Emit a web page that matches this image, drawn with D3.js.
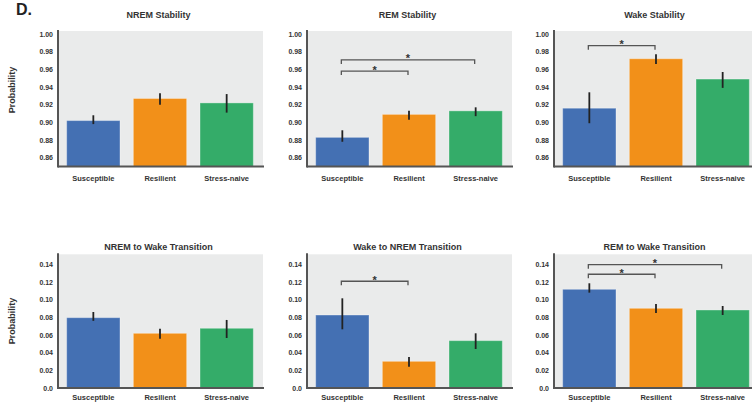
<!DOCTYPE html>
<html>
<head>
<meta charset="utf-8">
<script src="https://cdn.jsdelivr.net/npm/d3@7"></script>
<style>
  body { margin: 0; background: #fff; }
  svg text { font-family: "Liberation Sans", Arial, sans-serif; font-weight: bold; }
</style>
</head>
<body>
<svg id="chart" width="752" height="402"></svg>
<script>
// groups and colours
var groups = ["Susceptible", "Resilient", "Stress-naive"];
var groupColors = ["#4470b3", "#f29019", "#34ac69"];

// panel titles (row by row)
var titles = ["NREM Stability", "REM Stability", "Wake Stability",
              "NREM to Wake Transition", "Wake to NREM Transition", "REM to Wake Transition"];

// bar heights
var means = [
    [0.902, 0.927, 0.922],
    [0.883, 0.909, 0.913],
    [0.916, 0.972, 0.949],
    [0.0796, 0.0619, 0.0676],
    [0.0826, 0.0302, 0.0536],
    [0.1117, 0.0902, 0.0883]
];

// error bars [low, high]
var errLow = [
    [0.898, 0.920, 0.911],
    [0.878, 0.903, 0.907],
    [0.899, 0.966, 0.939],
    [0.076, 0.0558, 0.0566],
    [0.0664, 0.0241, 0.0441],
    [0.1079, 0.0849, 0.0826]
];
var errHigh = [
    [0.908, 0.933, 0.932],
    [0.891, 0.913, 0.917],
    [0.934, 0.977, 0.957],
    [0.086, 0.067, 0.077],
    [0.1015, 0.0351, 0.0619],
    [0.1185, 0.0951, 0.0928]
];

// significance brackets: [from group, to group, height]
var brackets = [
    [],
    [[0, 1, 0.958], [0, 2, 0.9706]],
    [[0, 1, 0.9868]],
    [],
    [[0, 1, 0.1208]],
    [[0, 1, 0.1287], [0, 2, 0.1396]]
];

var topTicks = [0.86, 0.88, 0.90, 0.92, 0.94, 0.96, 0.98, 1.00];
var bottomTicks = [0.0, 0.02, 0.04, 0.06, 0.08, 0.10, 0.12, 0.14];
var topDomain = [0.85, 1.0034];
var bottomDomain = [0, 0.1513];

var svg = d3.select("#chart");

var colX = [58, 307, 554];
var panelW = 205;
var rows = [
    { top: 31, bottom: 166.5, domain: topDomain, ticks: topTicks, fmt: d3.format(".2f"), titleY: 17.5, labelY: 181, probY: 90 },
    { top: 254.3, bottom: 388, domain: bottomDomain, ticks: bottomTicks, fmt: function(d) { return d === 0 ? "0.0" : d3.format(".2f")(d); }, titleY: 250, labelY: 400, probY: 321 }
];

svg.append("text")
    .attr("x", 16)
    .attr("y", 15)
    .attr("font-size", 16)
    .attr("fill", "#222")
    .text("D.");

rows.forEach(function(row) {
    svg.append("text")
        .attr("transform", "translate(15," + row.probY + ") rotate(-90)")
        .attr("text-anchor", "middle")
        .attr("font-size", 9)
        .attr("fill", "#333")
        .text("Probability");
});

titles.forEach(function(title, i) {
    var row = rows[Math.floor(i / 3)];
    var x0 = colX[i % 3];
    var g = svg.append("g");

    var x = d3.scaleBand()
        .domain(groups)
        .range([x0 + 2, x0 + 202])
        .paddingInner(0.2)
        .paddingOuter(0.1);

    var y = d3.scaleLinear()
        .domain(row.domain)
        .range([row.bottom, row.top]);

    g.append("rect")
        .attr("x", x0)
        .attr("y", row.top)
        .attr("width", panelW)
        .attr("height", row.bottom - row.top)
        .attr("fill", "#eaebeb");

    g.append("text")
        .attr("x", x0 + panelW / 2 - 2)
        .attr("y", row.titleY)
        .attr("text-anchor", "middle")
        .attr("font-size", 9)
        .attr("fill", "#333")
        .text(title);

    // bars
    g.selectAll(".bar")
        .data(means[i])
        .enter()
        .append("rect")
        .attr("class", "bar")
        .attr("x", function(d, j) { return x(groups[j]); })
        .attr("width", x.bandwidth())
        .attr("y", function(d) { return y(d); })
        .attr("height", function(d) { return row.bottom - y(d); })
        .attr("fill", function(d, j) { return groupColors[j]; })
        .attr("stroke", "rgba(255,255,255,0.35)")
        .attr("stroke-width", 1);

    // error bars
    g.selectAll(".err")
        .data(means[i])
        .enter()
        .append("line")
        .attr("class", "err")
        .attr("x1", function(d, j) { return x(groups[j]) + x.bandwidth() / 2; })
        .attr("x2", function(d, j) { return x(groups[j]) + x.bandwidth() / 2; })
        .attr("y1", function(d, j) { return y(errLow[i][j]); })
        .attr("y2", function(d, j) { return y(errHigh[i][j]); })
        .attr("stroke", "#222")
        .attr("stroke-width", 1.8);

    // axes
    var yAxis = d3.axisLeft(y)
        .tickValues(row.ticks)
        .tickFormat(row.fmt)
        .tickSize(0)
        .tickPadding(5);

    var ay = g.append("g")
        .attr("transform", "translate(" + x0 + ",0)")
        .call(yAxis);
    ay.select(".domain").remove();
    ay.selectAll("text")
        .attr("font-size", 7)
        .attr("fill", "#333");

    var xAxis = d3.axisBottom(x).tickSize(0).tickPadding(9);
    var ax = g.append("g")
        .attr("transform", "translate(0," + row.bottom + ")")
        .call(xAxis);
    ax.select(".domain").remove();
    ax.selectAll("text")
        .attr("font-size", 7.5)
        .attr("fill", "#333")
        .attr("dy", null)
        .attr("y", row.labelY - row.bottom);

    g.append("line")
        .attr("x1", x0).attr("x2", x0)
        .attr("y1", row.top - 1).attr("y2", row.bottom + 1)
        .attr("stroke", "#555").attr("stroke-width", 2);
    g.append("line")
        .attr("x1", x0).attr("x2", x0 + panelW + 1)
        .attr("y1", row.bottom).attr("y2", row.bottom)
        .attr("stroke", "#555").attr("stroke-width", 2);

    // significance brackets
    brackets[i].forEach(function(b) {
        var xa = x(groups[b[0]]) + x.bandwidth() / 2 - 1;
        var xb = x(groups[b[1]]) + x.bandwidth() / 2 - 1;
        var yb = y(b[2]);
        g.append("path")
            .attr("d", d3.line()([[xa, yb + 4], [xa, yb], [xb, yb], [xb, yb + 4]]))
            .attr("fill", "none")
            .attr("stroke", "#555")
            .attr("stroke-width", 1.3);
        g.append("text")
            .attr("x", (xa + xb) / 2)
            .attr("y", yb + 2.5)
            .attr("text-anchor", "middle")
            .attr("font-size", 11)
            .attr("fill", "#333")
            .text("*");
    });
});
</script>
</body>
</html>
